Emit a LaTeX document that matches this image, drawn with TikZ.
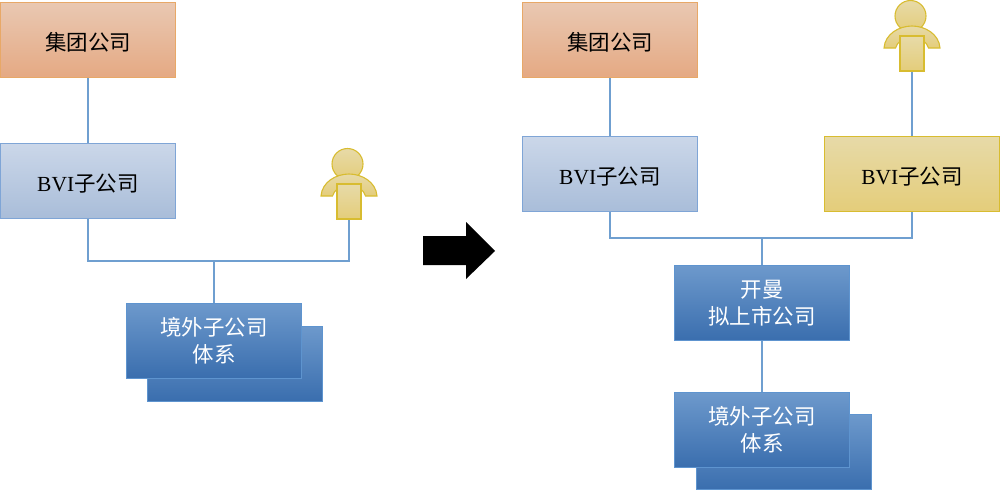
\documentclass[tikz,border=0pt]{standalone}
\usepackage{fontspec}
\setmainfont{Liberation Serif}
\newfontfamily\cjk{Noto Sans CJK SC}
\newcommand{\zh}[1]{{\cjk #1}}
\definecolor{linkblue}{HTML}{6F9FD0}
\definecolor{orangeline}{HTML}{E8A867}
\definecolor{orangetop}{HTML}{E9C8B2}
\definecolor{orangelow}{HTML}{E5A983}
\definecolor{greyline}{HTML}{7FA5D6}
\definecolor{greytop}{HTML}{CBD7E9}
\definecolor{greylow}{HTML}{A9BDD9}
\definecolor{yellowline}{HTML}{D8BC30}
\definecolor{yellowtop}{HTML}{E7DAA8}
\definecolor{yellowlow}{HTML}{E4CD7A}
\definecolor{blueline}{HTML}{5E94CF}
\definecolor{bluetop}{HTML}{6D99CC}
\definecolor{bluemid}{HTML}{4A80C0}
\definecolor{bluelow}{HTML}{3A6EAE}
\tikzset{
  box/.style={rectangle,draw,line width=1pt,minimum width=175pt,minimum height=75pt,
    align=center,font=\fontsize{21.5}{27}\selectfont,inner sep=0pt,
    execute at begin node=\rule{0pt}{23pt}},
  orangebox/.style={box,draw=orangeline,top color=orangetop,bottom color=orangelow},
  greybox/.style={box,draw=greyline,top color=greytop,bottom color=greylow},
  yellowbox/.style={box,draw=yellowline,top color=yellowtop,bottom color=yellowlow},
  bluebox/.style={box,draw=blueline,text=white,top color=bluetop,middle color=bluemid,bottom color=bluelow},
  link/.style={draw=linkblue,line width=1.2pt},
  manpart/.style={draw=yellowline,line width=1.1pt,top color=yellowtop,bottom color=yellowlow},
  person/.pic={
    \node[manpart,circle,minimum size=31pt,inner sep=0pt] (-head) at (-1.5,-16) {};
    \path[manpart]
      (-28,16) .. controls (-27,2) and (-13,-6) .. (0,-6) .. controls (13,-6) and (27,2) .. (28,16)
      -- (16.5,16) .. controls (15,10) and (8,5) .. (0,5) .. controls (-8,5) and (-15,10) .. (-16.5,16) -- cycle;
    \node[manpart,rectangle,minimum width=24pt,minimum height=35pt,inner sep=0pt] (-body) at (0,21.5) {};
  }
}
\begin{document}
\begin{tikzpicture}[x=1pt,y=-1pt]
\useasboundingbox (0,0) rectangle (1000,491);
% left part
\node[orangebox] (groupa) at (88,40) {\zh{集团公司}};
\node[greybox] (bvia) at (88,180.5) {BVI\zh{子公司}};
\pic (mana) at (349,180) {person};
\node[bluebox] (backa) at (234.5,363.5) {};
\node[bluebox] (overseasa) at (214,340.5) {\zh{境外子公司}\\\zh{体系}};
\coordinate (joina) at (214,261);
\draw[link] (groupa) -- (bvia);
\draw[link] (bvia.south) |- (joina) -| (mana-body.south);
\draw[link] (joina) -- (overseasa.north);
% big arrow
\fill[black] (423,236) -- (466,236) -- (466,222) -- (495,251) -- (466,279) -- (466,265) -- (423,265) -- cycle;
% right part
\node[orangebox] (groupb) at (610,40) {\zh{集团公司}};
\node[greybox] (bvib) at (610,174) {BVI\zh{子公司}};
\node[yellowbox] (bvic) at (912,174) {BVI\zh{子公司}};
\pic (manb) at (912,32) {person};
\node[bluebox] (cayman) at (762,303) {\zh{开曼}\\\zh{拟上市公司}};
\node[bluebox] (backb) at (783.5,452) {};
\node[bluebox] (overseasb) at (762,430) {\zh{境外子公司}\\\zh{体系}};
\coordinate (joinb) at (762,238);
\draw[link] (groupb) -- (bvib);
\draw[link] (manb-body.south) -- (bvic.north);
\draw[link] (bvib.south) |- (joinb) -| (bvic.south);
\draw[link] (joinb) -- (cayman.north);
\draw[link] (cayman) -- (overseasb);
\end{tikzpicture}
\end{document}
